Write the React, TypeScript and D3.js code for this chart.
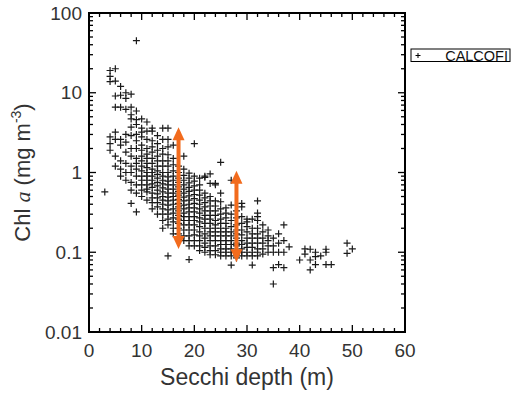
import React from 'react';
import * as d3 from 'd3';

// Secchi depth columns (m) and the Chl a values read at each column (mg m-3)
const secchiDepth = [3, 4, 5, 6, 7, 8, 9, 10, 11, 12, 13, 14, 15, 16, 17, 18, 19, 20, 21, 22, 23, 24, 25, 26, 27, 28, 29, 30, 31, 32, 33, 34, 35, 36, 37, 38, 40, 41, 42, 43, 44, 45, 46, 49, 50];
const chlA: number[][] = [
  [0.57],
  [19, 16, 13.8, 2.8, 2.3, 1.9],
  [20, 14, 9.1, 6.6, 3.2, 2.6, 1.6, 1.2],
  [12, 9.3, 6.6, 2.6, 2.2, 1.4, 0.9, 1.1],
  [10, 8.5, 6.2, 3.0, 2.4, 1.8, 1.3, 1.0, 0.8],
  [9.6, 6.6, 5.3, 4.7, 3.7, 2.9, 2.0, 1.6, 1.2, 1.0, 0.75, 0.6, 0.41],
  [45, 5.9, 4.6, 4.0, 3.0, 2.5, 2.0, 1.5, 1.3, 1.1, 0.9, 0.7, 0.55, 0.32],
  [4.7, 3.6, 3.2, 2.8, 2.2, 1.9, 1.6, 1.4, 1.2, 1.05, 0.9, 0.8, 0.7, 0.6, 0.5],
  [4.3, 3.3, 2.6, 2.0, 1.7, 1.5, 1.3, 1.15, 1.0, 0.9, 0.8, 0.7, 0.62, 0.57, 0.45],
  [3.6, 3.3, 2.5, 2.1, 1.8, 1.5, 1.3, 1.1, 1.0, 0.9, 0.8, 0.72, 0.65, 0.55, 0.48, 0.42, 0.35],
  [2.9, 2.3, 1.9, 1.6, 1.4, 1.2, 1.05, 0.95, 0.85, 0.75, 0.68, 0.6, 0.54, 0.48, 0.42, 0.37, 0.3],
  [3.6, 2.6, 2.0, 1.7, 1.4, 1.2, 1.0, 0.9, 0.8, 0.72, 0.64, 0.57, 0.5, 0.45, 0.4, 0.35, 0.3, 0.25, 0.2],
  [3.6, 2.6, 2.1, 1.67, 1.4, 1.2, 1.0, 0.88, 0.78, 0.7, 0.62, 0.55, 0.49, 0.44, 0.39, 0.34, 0.3, 0.26, 0.22, 0.09],
  [2.2, 1.5, 1.25, 1.05, 0.9, 0.8, 0.7, 0.62, 0.55, 0.5, 0.45, 0.4, 0.35, 0.31, 0.27, 0.24, 0.2, 0.17],
  [1.2, 1.0, 0.85, 0.75, 0.66, 0.58, 0.52, 0.46, 0.41, 0.37, 0.33, 0.29, 0.26, 0.23, 0.2, 0.17, 0.15],
  [1.6, 1.1, 0.92, 0.8, 0.7, 0.62, 0.55, 0.49, 0.44, 0.39, 0.35, 0.31, 0.28, 0.25, 0.22, 0.19, 0.16, 0.14],
  [0.98, 0.85, 0.74, 0.65, 0.58, 0.51, 0.45, 0.4, 0.36, 0.32, 0.28, 0.25, 0.22, 0.19, 0.16, 0.14, 0.12, 0.081],
  [2.3, 0.9, 0.78, 0.68, 0.6, 0.53, 0.47, 0.41, 0.36, 0.32, 0.28, 0.25, 0.22, 0.19, 0.165, 0.14, 0.12],
  [0.85, 0.7, 0.6, 0.52, 0.45, 0.4, 0.35, 0.31, 0.27, 0.24, 0.21, 0.18, 0.16, 0.14, 0.12, 0.105],
  [0.9, 0.87, 0.55, 0.48, 0.42, 0.37, 0.33, 0.29, 0.26, 0.23, 0.2, 0.17, 0.15, 0.13, 0.115, 0.1],
  [0.96, 0.73, 0.5, 0.44, 0.38, 0.33, 0.29, 0.26, 0.23, 0.2, 0.18, 0.16, 0.14, 0.12, 0.105, 0.093],
  [0.7, 0.73, 0.44, 0.38, 0.33, 0.29, 0.25, 0.22, 0.2, 0.18, 0.16, 0.14, 0.12, 0.105, 0.093],
  [1.34, 0.55, 0.43, 0.35, 0.3, 0.26, 0.23, 0.2, 0.18, 0.16, 0.14, 0.125, 0.11, 0.1, 0.09],
  [0.36, 0.31, 0.27, 0.23, 0.2, 0.18, 0.16, 0.14, 0.125, 0.11, 0.1, 0.09],
  [0.8, 0.39, 0.3, 0.25, 0.21, 0.18, 0.16, 0.14, 0.125, 0.11, 0.1, 0.09, 0.069],
  [0.33, 0.27, 0.22, 0.19, 0.17, 0.15, 0.13, 0.12, 0.105, 0.095, 0.085],
  [0.41, 0.37, 0.28, 0.23, 0.19, 0.165, 0.14, 0.125, 0.11, 0.1, 0.09],
  [0.26, 0.24, 0.21, 0.18, 0.15, 0.13, 0.115, 0.1, 0.09],
  [0.26, 0.2, 0.17, 0.15, 0.13, 0.115, 0.1, 0.09, 0.069],
  [0.44, 0.31, 0.28, 0.25, 0.2, 0.17, 0.15, 0.13, 0.11, 0.1, 0.09],
  [0.22, 0.18, 0.15, 0.13, 0.11, 0.095],
  [0.19, 0.16, 0.14, 0.12, 0.1],
  [0.15, 0.12, 0.1, 0.064, 0.04],
  [0.17, 0.13, 0.1, 0.07],
  [0.22, 0.14, 0.1, 0.064],
  [0.117],
  [0.08],
  [0.11, 0.095],
  [0.109, 0.08, 0.06],
  [0.1, 0.088, 0.07],
  [0.09],
  [0.109, 0.1, 0.07],
  [0.07],
  [0.13, 0.097],
  [0.11],
];

// orange range arrows
const arrowDepth = [17, 28];
const arrowLow = [0.11, 0.075];
const arrowHigh = [3.7, 1.05];

const xTickValues = [0, 10, 20, 30, 40, 50, 60];
const yTickValues = [0.01, 0.1, 1, 10, 100];
const yTickLabels = ['0.01', '0.1', '1', '10', '100'];
const legendLabel = 'CALCOFI';

const FONT = 'Liberation Sans, Arial, sans-serif';
const ORANGE = '#f26b1d';

export default function App() {
  const width = 515;
  const height = 397;
  const margin = { top: 13, right: 110, bottom: 65, left: 89 };
  const x0 = margin.left;
  const x1 = width - margin.right;
  const y0 = height - margin.bottom - 0; // bottom of plot
  const y1 = margin.top;

  const xScale = d3.scaleLinear().domain([0, 60]).range([x0, 405]);
  const yScale = d3.scaleLog().domain([0.01, 100]).range([332, y1]);

  const points: { x: number; y: number }[] = [];
  secchiDepth.forEach((d, i) => chlA[i].forEach(v => points.push({ x: d, y: v })));

  const xMinor = d3.range(0, 61, 2).filter(v => v % 10 !== 0);
  const yMinor: number[] = [];
  [0.01, 0.1, 1, 10].forEach(dec => d3.range(2, 10).forEach(k => yMinor.push(dec * k)));

  const left = xScale(0);
  const right = xScale(60);
  const top = yScale(100);
  const bottom = yScale(0.01);
  const majorLen = 7;
  const minorLen = 4;
  const s = 3.5; // half size of plus marker

  void x1; void y0;

  return (
    <svg width={width} height={height} style={{ position: 'absolute', left: 0, top: 0, background: '#fff' }}>
      {/* scatter */}
      <g stroke="#1a1a1a" strokeWidth={1.2}>
        {points.map((p, i) => {
          const cx = xScale(p.x);
          const cy = yScale(p.y);
          return <path key={i} d={`M${cx - s},${cy}H${cx + s}M${cx},${cy - s}V${cy + s}`} />;
        })}
      </g>

      {/* arrows */}
      {arrowDepth.map((d, i) => {
        const ax = xScale(d);
        const yt = yScale(arrowHigh[i]);
        const yb = yScale(arrowLow[i]);
        const hl = 13;
        const hw = 6;
        return (
          <g key={i} fill={ORANGE}>
            <rect x={ax - 2} y={yt + hl - 1} width={4} height={yb - yt - 2 * hl + 2} />
            <polygon points={`${ax},${yt} ${ax - hw},${yt + hl} ${ax + hw},${yt + hl}`} />
            <polygon points={`${ax},${yb} ${ax - hw},${yb - hl} ${ax + hw},${yb - hl}`} />
          </g>
        );
      })}

      {/* ticks */}
      <g stroke="#000" strokeWidth={1.3}>
        {xTickValues.map(v => (
          <g key={'xt' + v}>
            <line x1={xScale(v)} x2={xScale(v)} y1={bottom} y2={bottom - majorLen} />
            <line x1={xScale(v)} x2={xScale(v)} y1={top} y2={top + majorLen} />
          </g>
        ))}
        {xMinor.map(v => (
          <g key={'xm' + v}>
            <line x1={xScale(v)} x2={xScale(v)} y1={bottom} y2={bottom - minorLen} />
            <line x1={xScale(v)} x2={xScale(v)} y1={top} y2={top + minorLen} />
          </g>
        ))}
        {yTickValues.map(v => (
          <g key={'yt' + v}>
            <line x1={left} x2={left + majorLen} y1={yScale(v)} y2={yScale(v)} />
            <line x1={right} x2={right - majorLen} y1={yScale(v)} y2={yScale(v)} />
          </g>
        ))}
        {yMinor.map(v => (
          <g key={'ym' + v}>
            <line x1={left} x2={left + minorLen} y1={yScale(v)} y2={yScale(v)} />
            <line x1={right} x2={right - minorLen} y1={yScale(v)} y2={yScale(v)} />
          </g>
        ))}
      </g>

      {/* frame */}
      <rect x={left} y={top} width={right - left} height={bottom - top} fill="none" stroke="#000" strokeWidth={2} />

      {/* tick labels */}
      <g fontFamily={FONT} fontSize={19} fill="#333">
        {xTickValues.map(v => (
          <text key={'xl' + v} x={xScale(v)} y={bottom + 25} textAnchor="middle">{v}</text>
        ))}
        {yTickValues.map((v, i) => (
          <text key={'yl' + v} x={left - 7} y={yScale(v)} dy="0.35em" textAnchor="end">{yTickLabels[i]}</text>
        ))}
      </g>

      {/* axis titles */}
      <text x={(left + right) / 2} y={385} textAnchor="middle" fontFamily={FONT} fontSize={23} fill="#333">
        Secchi depth (m)
      </text>
      <text transform={`translate(30, ${(top + bottom) / 2}) rotate(-90)`} textAnchor="middle" fontFamily={FONT} fontSize={22} fill="#333">
        Chl <tspan fontFamily="Liberation Serif, Times New Roman, serif" fontStyle="italic">a</tspan> (mg m<tspan fontSize={14} dy={-9}>-3</tspan><tspan dy={9}>)</tspan>
      </text>

      {/* legend */}
      <rect x={411} y={49} width={99} height={12.5} fill="#fff" stroke="#000" strokeWidth={1} />
      <path d={`M${418 - 2.5},55.5H${418 + 2.5}M418,${55.5 - 2.5}V${55.5 + 2.5}`} stroke="#000" strokeWidth={1} />
      <text x={508} y={60.5} textAnchor="end" fontFamily={FONT} fontSize={14.5} fill="#111">{legendLabel}</text>
    </svg>
  );
}
